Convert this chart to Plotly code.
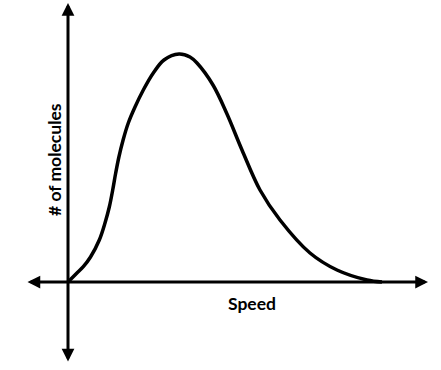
import plotly.graph_objects as go

# Curve (speed, number of molecules), arbitrary units
speed = [0, 8.7, 15.3, 22.5, 31.3, 37, 41.3, 44.7, 47.7, 50.9, 55.1, 60.3, 67, 75.3, 85.3,
         96, 111, 122, 129, 145, 159, 174, 192, 212, 242, 269, 299, 314]
molecules = [0, 8.7, 15.3, 25, 42, 59, 75, 92, 109, 125, 142, 159, 175, 192, 209,
             222, 228, 225, 219, 197, 168, 132, 92, 62, 29, 12, 2, 0]

x_label = "Speed"
y_label = "# of molecules"

# axis extents (data units)
x_axis_min, x_axis_max = -42, 360
y_axis_min, y_axis_max = -81, 279

fig = go.Figure()
fig.add_trace(go.Scatter(
    x=speed, y=molecules, mode="lines",
    line=dict(color="black", width=3.5, shape="spline", smoothing=1.0, simplify=False),
    hoverinfo="skip", showlegend=False,
))

arrow_common = dict(xref="x", yref="y", axref="x", ayref="y", text="",
                    showarrow=True, arrowhead=2, startarrowhead=2,
                    arrowside="end+start", arrowsize=0.85, startarrowsize=0.85,
                    arrowwidth=3, arrowcolor="black", standoff=0, startstandoff=0)
fig.add_annotation(x=x_axis_max, y=0, ax=x_axis_min, ay=0, **arrow_common)
fig.add_annotation(x=0, y=y_axis_max, ax=0, ay=y_axis_min, **arrow_common)

font = dict(family="Lato", size=17.5, color="black")
fig.add_annotation(x=184, y=-21, xref="x", yref="y", text="<b>" + x_label + "</b>",
                   showarrow=False, font=font)
fig.add_annotation(x=-14, y=122, xref="x", yref="y", text="<b>" + y_label + "</b>",
                   showarrow=False, font=font, textangle=-90)

fig.update_xaxes(range=[-68, 373], visible=False, fixedrange=True)
fig.update_yaxes(range=[-88, 282], visible=False, fixedrange=True)
fig.update_layout(width=441, height=370, margin=dict(l=0, r=0, t=0, b=0),
                  plot_bgcolor="white", paper_bgcolor="white")

fig.write_html("out.html", config={"displayModeBar": False},
               post_script="document.body.style.margin='0';document.body.style.overflow='hidden';")
